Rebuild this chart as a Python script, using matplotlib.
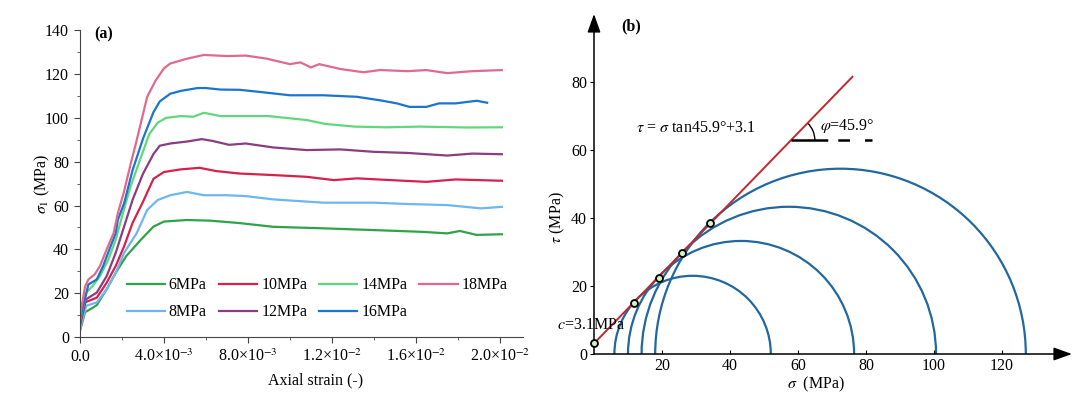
import numpy as np
import matplotlib
matplotlib.use('Agg')
import matplotlib.pyplot as plt
from matplotlib.patches import Arc
from matplotlib.ticker import MultipleLocator

plt.rcParams['font.family'] = ['Liberation Serif', 'DejaVu Serif']
plt.rcParams['mathtext.fontset'] = 'stix'
plt.rcParams['font.size'] = 11.5

# (a) stress-strain curves
s6 = [0, 0.00024, 0.00063, 0.0008, 0.00127, 0.0017, 0.0022, 0.0029, 0.0035, 0.004, 0.0051, 0.0062,
      0.0076, 0.0092, 0.0116, 0.014, 0.0163, 0.0175, 0.0181, 0.0189, 0.0201]
t6 = [3, 11.3, 13.5, 14.6, 21.8, 29.3, 36.9, 44.4, 50.4, 52.7, 53.4, 53.1,
      52.0, 50.3, 49.6, 48.8, 48.0, 47.3, 48.4, 46.6, 46.9]
s8 = [0, 0.0003, 0.0008, 0.00127, 0.0017, 0.0021, 0.0027, 0.0032, 0.0037, 0.0043, 0.0051, 0.0059,
      0.007, 0.0079, 0.0092, 0.0116, 0.014, 0.0156, 0.0175, 0.0191, 0.0201]
t8 = [3.8, 14.3, 15.8, 21.8, 29.3, 38.4, 47.4, 58, 62.5, 64.7, 66.2, 64.7,
      64.7, 64.3, 62.8, 61.3, 61.3, 60.7, 60.2, 58.7, 59.4]
s10 = [0, 0.00024, 0.0008, 0.00127, 0.0017, 0.0021, 0.0025, 0.003, 0.0035, 0.004, 0.0048, 0.0057,
       0.0065, 0.0076, 0.0092, 0.0108, 0.0121, 0.0132, 0.0148, 0.0165, 0.0179, 0.0201]
t10 = [5.3, 15.8, 18, 24.8, 32.4, 41.4, 52, 61.7, 72.2, 75.3, 76.5, 77.2,
       75.7, 74.6, 73.9, 73.1, 71.6, 72.4, 71.6, 70.8, 71.9, 71.3]
s12 = [0, 0.0003, 0.0008, 0.00127, 0.0017, 0.0021, 0.0025, 0.003, 0.0035, 0.0038, 0.0043, 0.0051,
       0.0058, 0.0063, 0.0071, 0.0079, 0.0092, 0.0108, 0.0124, 0.014, 0.0156, 0.0175, 0.0187, 0.0201]
t12 = [6.8, 17.3, 20.3, 27.8, 38.4, 50.4, 62.5, 74.5, 83.5, 87.3, 88.3, 89.2,
       90.3, 89.5, 87.7, 88.3, 86.5, 85.3, 85.6, 84.5, 84, 82.8, 83.7, 83.4]
s14 = [0, 0.0003, 0.0006, 0.00095, 0.00135, 0.0017, 0.002, 0.0024, 0.0029, 0.0033, 0.0037, 0.0041,
       0.0048, 0.0054, 0.0059, 0.0067, 0.0076, 0.009, 0.0108, 0.0117, 0.0131, 0.0146, 0.0162, 0.0185, 0.0201]
t14 = [7.5, 20.3, 23.3, 27.8, 35.4, 44.4, 55, 68.5, 82, 92.6, 97.8, 100,
       100.8, 100.5, 102.3, 100.8, 100.8, 100.8, 99, 97.2, 96, 95.7, 96, 95.6, 95.7]
s16 = [0, 0.0004, 0.0008, 0.0011, 0.0014, 0.0017, 0.0018, 0.0021, 0.0025, 0.003, 0.0035, 0.0038,
       0.0043, 0.0048, 0.0056, 0.006, 0.0067, 0.0076, 0.0084, 0.01, 0.0116, 0.0132, 0.0143, 0.0151,
       0.0157, 0.0165, 0.0171, 0.0179, 0.0189, 0.0194]
t16 = [8.3, 24, 26.3, 32.4, 40, 47.4, 53.4, 61, 76, 90.5, 102.6, 107.5,
       111, 112.3, 113.6, 113.6, 112.9, 112.8, 112, 110.3, 110.3, 109.6, 108, 106.6,
       105, 105, 106.6, 106.6, 107.8, 106.9]
s18 = [0, 0.00024, 0.0004, 0.0007, 0.00095, 0.00127, 0.0016, 0.0018, 0.0021, 0.0024, 0.0027, 0.0032,
       0.0036, 0.004, 0.0043, 0.0051, 0.0059, 0.007, 0.0079, 0.0089, 0.01, 0.0105, 0.011, 0.0114,
       0.0124, 0.0135, 0.0143, 0.0156, 0.0165, 0.0175, 0.0187, 0.0201]
t18 = [9.8, 23, 26.3, 28.6, 32.4, 40, 47.4, 56.4, 66.5, 78.5, 89.8, 109.6,
       117, 122.6, 124.8, 127, 128.7, 128.2, 128.4, 127, 124.5, 125.3, 123, 124.5,
       122.3, 120.8, 121.8, 121.3, 121.8, 120.4, 121.3, 121.8]

labels = ['6MPa', '8MPa', '10MPa', '12MPa', '14MPa', '16MPa', '18MPa']
colors = ['#2fa446', '#6db6f2', '#d8204c', '#8a3d80', '#62d67c', '#1b74cd', '#e06a8e']
strains = [s6, s8, s10, s12, s14, s16, s18]
stresses = [t6, t8, t10, t12, t14, t16, t18]

xtick_vals = [0, 0.004, 0.008, 0.012, 0.016, 0.02]
xtick_labels = ['0.0', '4.0×10$^{-3}$', '8.0×10$^{-3}$', '1.2×10$^{-2}$', '1.6×10$^{-2}$', '2.0×10$^{-2}$']

# (b) Mohr circles and envelope
sigma3 = [6, 10, 14, 18]
sigma1 = [52, 76.5, 100.6, 127]
tan_sigma = [0, 11.8, 19.0, 26.0, 34.1]
tan_tau = [3.1, 14.9, 22.5, 29.7, 38.5]
c = 3.1
phi = 45.9

fig = plt.figure(figsize=(10.8, 3.97), dpi=100)

# ---- panel (a)
ax1 = fig.add_axes([0.0741, 0.151, 0.410, 0.773])
for s, t, col, lab in zip(strains, stresses, colors, labels):
    ax1.plot(s, t, color=col, lw=1.6, label=lab)
ax1.set_xlim(0, 0.0211)
ax1.set_ylim(0, 140)
ax1.set_xticks(xtick_vals)
ax1.set_xticklabels(xtick_labels)
ax1.xaxis.set_minor_locator(MultipleLocator(0.002))
ax1.yaxis.set_major_locator(MultipleLocator(20))
ax1.yaxis.set_minor_locator(MultipleLocator(10))
for sp in ['top', 'right']:
    ax1.spines[sp].set_visible(False)
for sp in ['left', 'bottom']:
    ax1.spines[sp].set_color('#444444')
ax1.tick_params(which='major', length=4.5, color='#444444')
ax1.tick_params(axis='x', which='major', pad=4)
ax1.tick_params(which='minor', length=2.5, color='#444444')
ax1.set_xlabel('Axial strain (-)')
ax1.xaxis.set_label_coords(0.533, -0.115)
ax1.set_ylabel(r'$\sigma_1$ (MPa)')
ax1.yaxis.set_label_coords(-0.064, 0.5)
ax1.text(0.031, 0.985, '(a)', transform=ax1.transAxes, fontweight='bold', va='center', ha='left')
ax1.legend(ncol=4, loc='center left', bbox_to_anchor=(0.087, 0.125), frameon=False,
           borderpad=0, handlelength=2.4, handletextpad=0.25, columnspacing=0.75,
           labelspacing=0.7, fontsize=11.5)

# ---- panel (b)
ax2 = fig.add_axes([0.55, 0.1083, 142 * 3.4 / 1080, 100 * 3.4 / 397])
ax2.set_xlim(0, 142)
ax2.set_ylim(0, 100)
for s3, s1 in zip(sigma3, sigma1):
    ax2.add_patch(Arc(((s1 + s3) / 2, 0), s1 - s3, s1 - s3, theta1=0, theta2=180,
                      color='#22679e', lw=1.6))
sig_line = np.array([0, 76])
ax2.plot(sig_line, sig_line * np.tan(np.radians(phi)) + c, color='#c0282d', lw=1.4, clip_on=False)
ax2.plot(tan_sigma, tan_tau, 'o', ms=5, mfc='#d5f2c5', mec='black', mew=1.3, clip_on=False, zorder=5)

y_int = 62.9
x_int = (y_int - c) / np.tan(np.radians(phi))
ax2.plot([x_int, 81.8], [y_int, y_int], color='black', lw=1.8, dashes=(14.7, 4, 4.7, 6))
ax2.add_patch(Arc((x_int, y_int), 14, 14, theta1=0, theta2=phi, color='black', lw=1))

ax2.text(12.5, 66.5, r'$\tau$ = $\sigma$ tan45.9°+3.1', va='center', ha='left')
ax2.text(66.5, 67, r'$\varphi$=45.9°', va='center', ha='left')
ax2.text(-11, 8.5, r'$c$=3.1MPa', va='center', ha='left')
ax2.text(11, 96.5, '(b)', fontweight='bold', va='center', ha='center')

# axes with arrow heads
for sp in ['top', 'right', 'left', 'bottom']:
    ax2.spines[sp].set_visible(False)
ax2.annotate('', xy=(0.99, 0), xytext=(0, 0), xycoords='axes fraction',
             arrowprops=dict(arrowstyle='-|>,head_length=0.7,head_width=0.25', color='black',
                             lw=1.1, shrinkA=0, shrinkB=0, mutation_scale=16))
ax2.annotate('', xy=(0, 1), xytext=(0, 0), xycoords='axes fraction',
             arrowprops=dict(arrowstyle='-|>,head_length=0.7,head_width=0.25', color='black',
                             lw=1.1, shrinkA=0, shrinkB=0, mutation_scale=16))
ax2.set_xticks([20, 40, 60, 80, 100, 120])
ax2.set_yticks([0, 20, 40, 60, 80])
ax2.tick_params(axis='x', direction='in', length=3, pad=3)
ax2.tick_params(axis='y', direction='out', length=3, pad=2)
ax2.set_xlabel(r'$\sigma$  (MPa)')
ax2.xaxis.set_label_coords(0.46, -0.062)
ax2.set_ylabel(r'$\tau$ (MPa)')
ax2.yaxis.set_label_coords(-0.055, 0.40)

fig.savefig('out.png', dpi=100)
